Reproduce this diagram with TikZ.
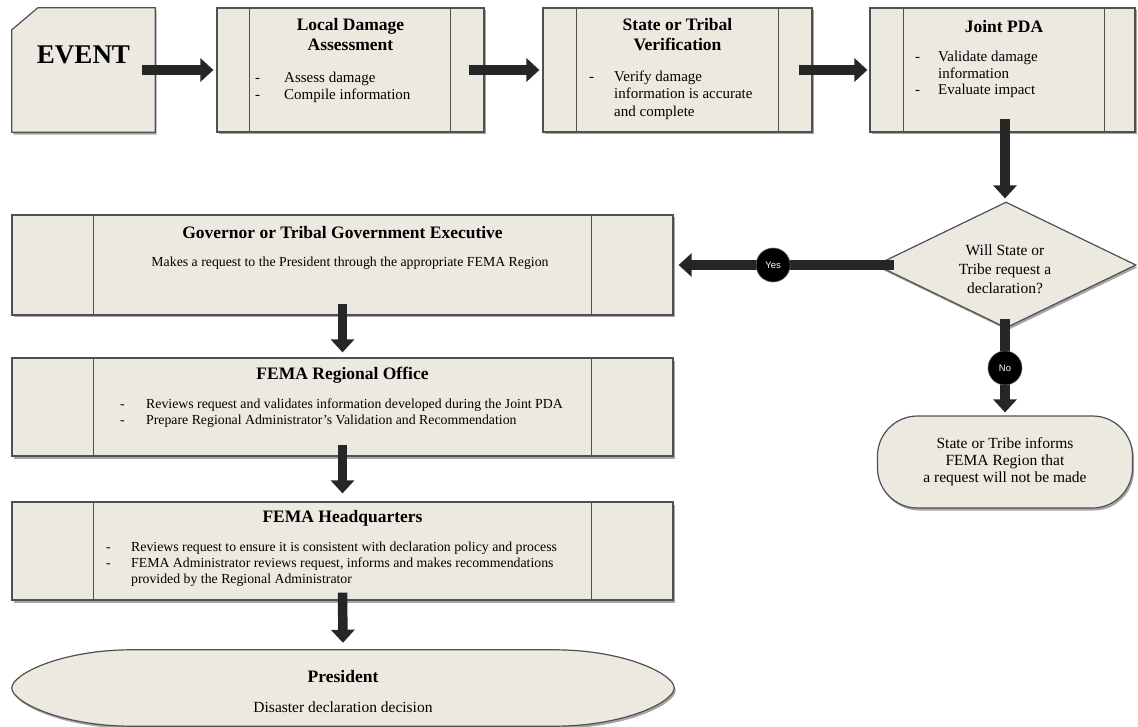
\documentclass[tikz,border=0pt]{standalone}
\usepackage{fontspec}
\setmainfont{Liberation Serif}
\setsansfont{Liberation Sans}
\usetikzlibrary{arrows.meta,shapes.geometric,shadows}
\definecolor{boxfill}{HTML}{ECE9E1}
\definecolor{boxline}{HTML}{505050}
\definecolor{arrowc}{HTML}{262626}
\begin{document}
\begin{tikzpicture}[x=1pt,y=-1pt,
  shad/.style={drop shadow={shadow xshift=1.5pt,shadow yshift=-2.5pt,opacity=0.35,fill=black}},
  box/.style={draw=boxline,fill=boxfill,line width=1.2pt,inner sep=0pt,shad},
  divider/.style={draw=boxline,line width=1pt},
  bigarrow/.style={draw=arrowc,line width=9.5pt,-{Triangle[length=13pt,width=23pt]}},
  title/.style={font=\fontsize{17.5}{20}\selectfont\bfseries,align=center,inner sep=0pt},
  body/.style={font=\fontsize{13.8}{16}\selectfont,align=center,inner sep=0pt},
  bigbody/.style={font=\fontsize{15.5}{17}\selectfont,align=center,inner sep=0pt},
  list/.style={font=\fontsize{13.8}{16}\selectfont,inner sep=0pt,anchor=north west},
  toplist/.style={font=\fontsize{15}{16.5}\selectfont,inner sep=0pt,anchor=north west},
  yesno/.style={circle,fill=black,draw=black!60,line width=0.6pt,minimum size=34pt,inner sep=0pt,text=white,font=\sffamily\fontsize{9.5}{10}\selectfont}
]
\useasboundingbox (0,0) rectangle (1138,727);

% ---- top row ----
\node[minimum width=143pt,minimum height=124pt,inner sep=0pt] (event) at (83.5,70) {};
\path[draw=boxline,fill=boxfill,line width=1.2pt,shad]
  ([yshift=-22pt]event.north west) -- ([xshift=26pt]event.north west) -- (event.north east)
  -- (event.south east) -- (event.south west) -- cycle;
\node[font=\fontsize{27}{30}\selectfont\bfseries,inner sep=0pt] (eventt) at ([yshift=15pt]event.center) {EVENT};

\node[box,minimum width=267pt,minimum height=124pt] (local) at (350.5,70) {};
\draw[divider] ([xshift=33pt]local.north west) -- ([xshift=33pt]local.south west);
\draw[divider] ([xshift=-34pt]local.north east) -- ([xshift=-34pt]local.south east);
\node[title] (localt) at (350.5,35) {Local Damage\\Assessment};
\node[toplist] (locall) at (255,71) {\begin{tabular}{@{}p{29pt}@{}l@{}}-&Assess damage\\-&Compile information\end{tabular}};

\node[box,minimum width=269pt,minimum height=124pt] (state) at (677.5,70) {};
\draw[divider] ([xshift=34pt]state.north west) -- ([xshift=34pt]state.south west);
\draw[divider] ([xshift=-34pt]state.north east) -- ([xshift=-34pt]state.south east);
\node[title] (statet) at (677.5,35) {State or Tribal\\Verification};
\node[toplist,font=\fontsize{15}{17.5}\selectfont] (statel) at (589,69) {\begin{tabular}{@{}p{25pt}@{}l@{}}-&Verify damage\\&information is accurate\\&and complete\end{tabular}};

\node[box,minimum width=265pt,minimum height=124pt] (joint) at (1002.5,70) {};
\draw[divider] ([xshift=34pt]joint.north west) -- ([xshift=34pt]joint.south west);
\draw[divider] ([xshift=-31pt]joint.north east) -- ([xshift=-31pt]joint.south east);
\node[title] (jointt) at (1004,27) {Joint PDA};
\node[toplist] (jointl) at (915,50) {\begin{tabular}{@{}p{23pt}@{}l@{}}-&Validate damage\\&information\\-&Evaluate impact\end{tabular}};

% ---- decision ----
\node[diamond,box,minimum width=260pt,minimum height=126pt] (dec) at (1006,265) {};
\node[font=\fontsize{15.5}{19}\selectfont,align=center,inner sep=0pt] (dect) at (1005,269) {Will State or\\Tribe request a\\declaration?};

\node[box,rounded corners=40pt,minimum width=255pt,minimum height=92pt] (inform) at (1005,462) {};
\node[bigbody] (informt) at (1005,462) {State or Tribe informs\\FEMA Region that\\a request will not be made};

% ---- left column ----
\node[box,minimum width=661pt,minimum height=100pt] (gov) at (342.5,265) {};
\draw[divider] ([xshift=82pt]gov.north west) -- ([xshift=82pt]gov.south west);
\draw[divider] ([xshift=-82pt]gov.north east) -- ([xshift=-82pt]gov.south east);
\node[title] (govt) at (342.5,233) {Governor or Tribal Government Executive};
\node[body] (govb) at (350,263) {Makes a request to the President through the appropriate FEMA Region};

\node[box,minimum width=661pt,minimum height=98pt] (reg) at (342.5,407) {};
\draw[divider] ([xshift=82pt]reg.north west) -- ([xshift=82pt]reg.south west);
\draw[divider] ([xshift=-82pt]reg.north east) -- ([xshift=-82pt]reg.south east);
\node[title] (regt) at (342.5,375) {FEMA Regional Office};
\node[list] (regl) at (120,397) {\begin{tabular}{@{}p{26pt}@{}l@{}}-&Reviews request and validates information developed during the Joint PDA\\-&Prepare Regional Administrator’s Validation and Recommendation\end{tabular}};

\node[box,minimum width=661pt,minimum height=98pt] (hq) at (342.5,551) {};
\draw[divider] ([xshift=82pt]hq.north west) -- ([xshift=82pt]hq.south west);
\draw[divider] ([xshift=-82pt]hq.north east) -- ([xshift=-82pt]hq.south east);
\node[title] (hqt) at (342.5,518) {FEMA Headquarters};
\node[list] (hql) at (106,540) {\begin{tabular}{@{}p{25pt}@{}l@{}}-&Reviews request to ensure it is consistent with declaration policy and process\\-&FEMA Administrator reviews request, informs and makes recommendations\\&provided by the Regional Administrator\end{tabular}};

\node[minimum width=662pt,minimum height=76pt,inner sep=0pt] (pres) at (343,688) {};
\path[draw=boxline,fill=boxfill,line width=1.2pt,shad]
  ([xshift=120pt]pres.north west) -- ([xshift=-120pt]pres.north east)
  .. controls ([xshift=-50pt]pres.north east) and ([yshift=14pt]pres.east) .. (pres.east)
  .. controls ([yshift=-14pt]pres.east) and ([xshift=-50pt]pres.south east) .. ([xshift=-120pt]pres.south east)
  -- ([xshift=120pt]pres.south west)
  .. controls ([xshift=50pt]pres.south west) and ([yshift=-14pt]pres.west) .. (pres.west)
  .. controls ([yshift=14pt]pres.west) and ([xshift=50pt]pres.north west) .. cycle;
\node[title] (prest) at (343,677) {President};
\node[bigbody] (presb) at (343,707) {Disaster declaration decision};

% ---- connectors ----
\draw[bigarrow] ([xshift=-13pt]event.east) -- ([xshift=-3pt]local.west);
\draw[bigarrow] ([xshift=-16pt]local.east) -- ([xshift=-3pt]state.west);
\draw[bigarrow] ([xshift=-14pt]state.east) -- ([xshift=-2pt]joint.west);
\draw[bigarrow] ([xshift=2.5pt,yshift=14pt]joint.south) -- ([xshift=-1pt,yshift=3pt]dec.north);
\draw[bigarrow] ([xshift=19pt]dec.west) -- node[pos=0.562,yesno] (yes) {Yes} ([xshift=5pt]gov.east);
\draw[bigarrow] ([xshift=-1pt,yshift=10pt]dec.south) -- node[pos=0.526,yesno] (no) {No} ([yshift=3pt]inform.north);
\draw[bigarrow] ([yshift=12pt]gov.south) -- ([yshift=5pt]reg.north);
\draw[bigarrow] ([yshift=12pt]reg.south) -- ([yshift=8pt]hq.north);
\draw[bigarrow] ([yshift=8pt]hq.south) -- ([yshift=7pt]pres.north);
\end{tikzpicture}
\end{document}
